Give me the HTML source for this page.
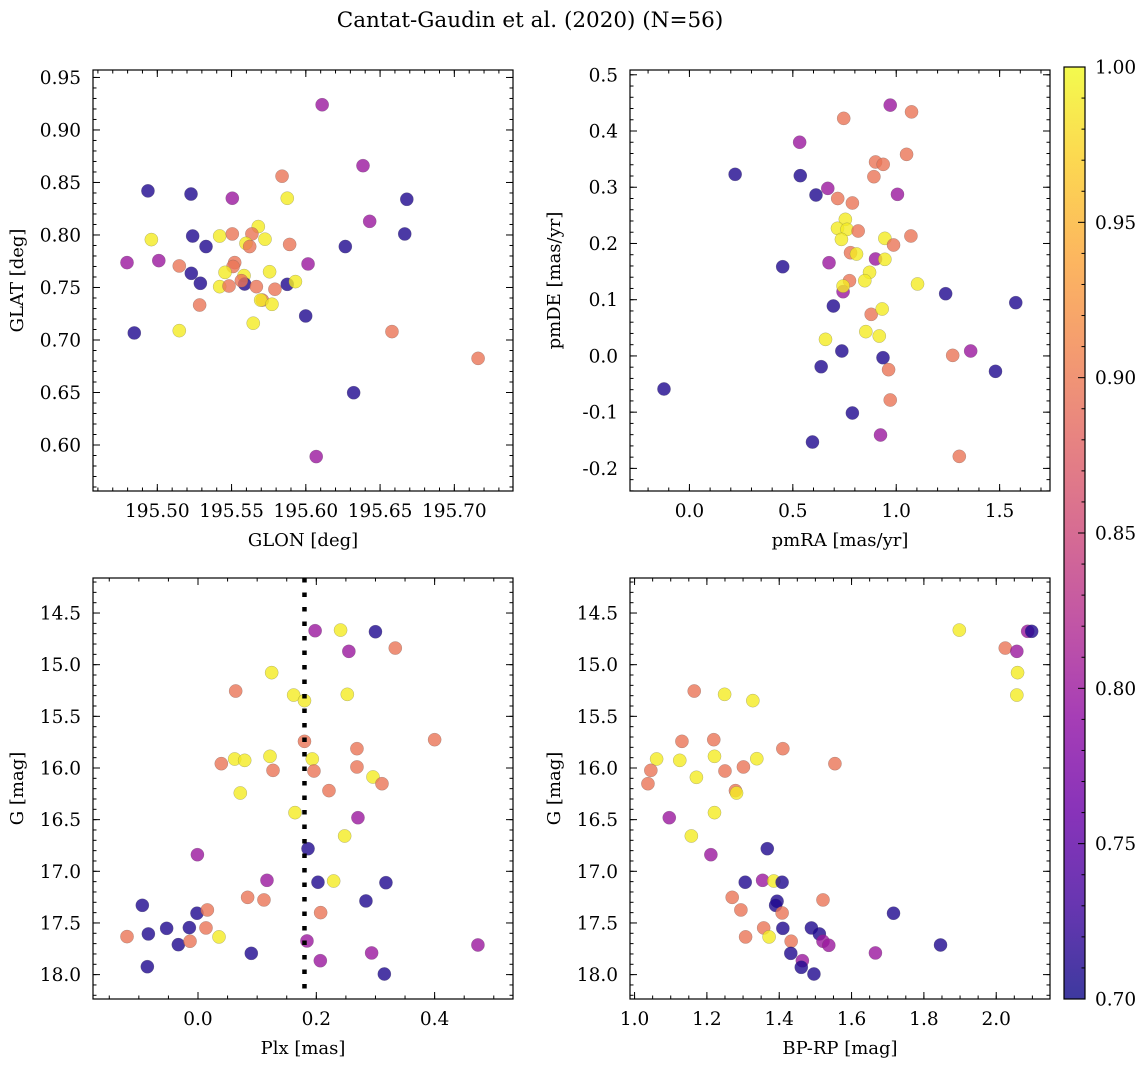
<!DOCTYPE html>
<html><head><meta charset="utf-8"><style>
html,body{margin:0;padding:0;background:#fff;}
svg{display:block;font-family:"DejaVu Serif","Liberation Serif",serif;}
</style></head><body>
<svg id="fig" width="1148" height="1067" viewBox="0 0 1148 1067" xmlns="http://www.w3.org/2000/svg">
<defs>
<linearGradient id="plasmaGrad" x1="0" y1="1" x2="0" y2="0">
<stop offset="0" stop-color="#0d0887"/><stop offset="0.1" stop-color="#41049d"/><stop offset="0.2" stop-color="#6a00a8"/><stop offset="0.3" stop-color="#8f0da4"/><stop offset="0.4" stop-color="#b12a90"/><stop offset="0.5" stop-color="#cc4778"/><stop offset="0.6" stop-color="#e16462"/><stop offset="0.7" stop-color="#f2844b"/><stop offset="0.8" stop-color="#fca636"/><stop offset="0.9" stop-color="#fcce25"/><stop offset="1" stop-color="#f0f921"/>
</linearGradient>
</defs>
<text x="530" y="27" font-size="21.5" text-anchor="middle">Cantat-Gaudin et al. (2020) (N=56)</text>
</svg>
<script>
// membership-probability classes
const B=0.71, P=0.80, S=0.895, Y=0.99;
// Panel 1: GLON / GLAT
const glon=[195.611,195.6385,195.584,195.4937,195.5227,195.5505,195.5875,195.668,195.643,195.568,195.6666,195.496,195.5238,195.542,195.5505,195.5637,195.5725,195.5597,195.5622,195.5328,195.5891,195.6266,195.4796,195.501,195.5148,195.5521,195.551,195.6015,195.5229,195.5456,195.5756,195.5584,195.529,195.5588,195.5566,195.542,195.5483,195.5667,195.5792,195.5875,195.593,195.5285,195.5707,195.5696,195.5772,195.5646,195.5999,195.4845,195.5148,195.658,195.716,195.6322,195.607];
const glat=[0.924,0.866,0.856,0.842,0.839,0.835,0.835,0.834,0.813,0.808,0.801,0.7956,0.799,0.799,0.801,0.801,0.796,0.792,0.789,0.789,0.791,0.789,0.7737,0.7756,0.7705,0.7737,0.770,0.7724,0.7635,0.7644,0.765,0.7613,0.754,0.7533,0.7565,0.7508,0.7514,0.7508,0.7483,0.753,0.7556,0.7333,0.738,0.738,0.734,0.716,0.7229,0.7067,0.7089,0.708,0.6825,0.6498,0.589];
const prob1=[P,P,S,B,B,P,Y,B,P,Y,B,Y,B,Y,S,S,Y,Y,S,B,S,B,P,P,S,S,S,P,B,Y,Y,Y,B,B,S,Y,S,S,S,B,Y,S,S,Y,Y,Y,B,B,Y,S,S,B,P];
// Panel 2: pmRA / pmDE
const pmra=[0.971,1.074,0.746,0.533,0.221,0.536,1.050,0.900,0.937,0.892,0.669,0.612,1.006,0.717,0.788,0.754,0.716,0.762,0.816,0.735,0.945,0.987,1.071,0.779,0.808,0.675,0.900,0.945,0.451,0.871,0.848,0.774,0.743,0.743,1.103,1.239,1.578,0.696,0.879,0.932,0.853,0.918,0.658,0.737,0.936,1.273,1.36,0.637,0.963,1.480,-0.123,0.971,0.788,0.924,0.595,1.305];
const pmde=[0.446,0.434,0.4225,0.380,0.323,0.3206,0.3585,0.3449,0.3407,0.3188,0.298,0.2862,0.2874,0.280,0.272,0.2429,0.227,0.2251,0.2222,0.2073,0.2091,0.1973,0.2133,0.1836,0.1813,0.1658,0.1724,0.1718,0.1587,0.1487,0.1338,0.1338,0.1143,0.1243,0.128,0.1107,0.0947,0.0888,0.074,0.0835,0.0432,0.0354,0.0295,0.0088,-0.0031,0.001,0.0088,-0.0191,-0.0244,-0.0274,-0.0588,-0.0784,-0.1015,-0.1406,-0.1531,-0.1786];
const prob2=[P,S,S,P,B,B,S,S,S,S,P,B,P,S,S,Y,Y,Y,S,Y,Y,S,S,S,Y,P,P,Y,B,Y,Y,S,P,Y,Y,B,B,B,S,Y,Y,Y,Y,B,B,S,P,B,S,B,B,S,B,P,B,S];
// Panel 3: Plx / G
const plx=[0.198,0.241,0.300,0.255,0.3335,0.1245,0.0637,0.1617,0.180,0.2524,0.180,0.40,0.2687,0.0394,0.062,0.0789,0.1217,0.1268,0.1932,0.196,0.2687,0.2958,0.311,0.2214,0.0715,0.164,0.2704,0.2479,0.186,-0.001,0.1166,0.2028,0.2293,0.3177,0.0839,0.1115,0.2839,-0.0941,-0.0017,0.0158,0.2073,-0.053,-0.0146,0.0135,-0.0839,-0.12,0.0355,-0.0332,-0.0135,0.1842,0.4732,0.0901,0.2935,0.2068,-0.0856,0.315];
const gmag3=[14.671,14.665,14.681,14.871,14.839,15.077,15.255,15.294,15.348,15.287,15.742,15.726,15.813,15.958,15.913,15.926,15.887,16.023,15.913,16.029,15.99,16.087,16.152,16.219,16.242,16.432,16.481,16.658,16.781,16.839,17.087,17.106,17.094,17.11,17.252,17.277,17.287,17.329,17.406,17.374,17.4,17.552,17.545,17.548,17.606,17.632,17.635,17.71,17.677,17.674,17.713,17.794,17.79,17.865,17.923,17.994];
const prob3=[P,Y,B,P,S,Y,S,Y,Y,Y,S,S,S,S,Y,Y,Y,S,Y,S,S,Y,S,S,Y,Y,P,Y,B,P,P,B,Y,B,S,S,B,B,B,S,S,B,B,S,B,S,Y,B,S,P,P,B,P,P,B,B];
const plxCut=[0.18];
// Panel 4: BP-RP / G
const bprp=[1.898,2.087,2.098,2.025,2.057,2.059,2.057,1.165,1.249,1.327,1.131,1.219,1.41,1.061,1.125,1.221,1.338,1.045,1.25,1.301,1.554,1.037,1.171,1.279,1.282,1.221,1.096,1.157,1.211,1.367,1.306,1.354,1.385,1.408,1.27,1.294,1.521,1.394,1.39,1.408,1.716,1.41,1.357,1.307,1.372,1.489,1.511,1.433,1.521,1.537,1.846,1.666,1.432,1.464,1.461,1.496];
const gmag4=[14.665,14.677,14.677,14.839,14.871,15.077,15.294,15.255,15.287,15.348,15.742,15.726,15.813,15.913,15.926,15.887,15.91,16.023,16.029,15.99,15.958,16.152,16.09,16.219,16.242,16.432,16.481,16.658,16.839,16.781,17.106,17.087,17.094,17.106,17.252,17.374,17.277,17.29,17.329,17.403,17.406,17.552,17.548,17.635,17.635,17.548,17.606,17.677,17.677,17.716,17.713,17.79,17.794,17.865,17.929,17.994];
const prob4=[Y,P,B,S,P,Y,Y,S,Y,Y,S,S,S,Y,Y,Y,Y,S,S,S,S,S,Y,S,Y,Y,P,Y,P,B,B,P,Y,B,S,S,S,B,B,S,B,B,S,S,Y,B,B,S,P,P,B,P,B,P,B,B];
// tick labels
const ticks1x=["195.50","195.55","195.60","195.65","195.70"];
const ticks1y=["0.60","0.65","0.70","0.75","0.80","0.85","0.90","0.95"];
const ticks2x=["0.0","0.5","1.0","1.5"];
const ticks2y=["-0.2","-0.1","0.0","0.1","0.2","0.3","0.4","0.5"];
const ticks3x=["0.0","0.2","0.4"];
const ticksG=["14.5","15.0","15.5","16.0","16.5","17.0","17.5","18.0"];
const ticks4x=["1.0","1.2","1.4","1.6","1.8","2.0"];
const ticksCb=["0.70","0.75","0.80","0.85","0.90","0.95","1.00"];

const NS="http://www.w3.org/2000/svg";
const svg=document.getElementById('fig');
const FS=18.5, LFS=18;
function mk(tag,attrs,parent){const e=document.createElementNS(NS,tag);for(const k in attrs)e.setAttribute(k,attrs[k]);(parent||svg).appendChild(e);return e;}
const stops=[[0,13,8,135],[0.1,65,4,157],[0.2,106,0,168],[0.3,143,13,164],[0.4,177,42,144],[0.5,204,71,120],[0.6,225,100,98],[0.7,242,132,75],[0.8,252,166,54],[0.9,252,206,37],[1,240,249,33]];
function plasma(v){let t=Math.max(0,Math.min(1,(v-0.7)/0.3));for(let i=1;i<stops.length;i++){if(t<=stops[i][0]){const a=stops[i-1],b=stops[i],f=(t-a[0])/(b[0]-a[0]);return `rgb(${Math.round(a[1]+f*(b[1]-a[1]))},${Math.round(a[2]+f*(b[2]-a[2]))},${Math.round(a[3]+f*(b[3]-a[3]))})`;}}return 'rgb(240,249,33)';}
function lin(d0,d1,r0,r1){return v=>r0+(v-d0)*(r1-r0)/(d1-d0);}

function panel(name,box,xl,yl,xMaj,xMin,yMaj,yMin,xT,yT,xlabel,ylabel,xs,ys,cs){
  const [L,T,R,Bt]=box;
  const sx=lin(xl[0],xl[1],L,R), sy=lin(yl[0],yl[1],Bt,T);
  const g=mk('g',{});
  
  
  const pts=mk('g',{},g);
  
  
  for(let i=0;i<xs.length;i++){
    const c=mk('circle',{cx:sx(xs[i]),cy:sy(ys[i]),r:6.6,fill:plasma(cs[i]),'fill-opacity':0.8,stroke:'#555','stroke-width':0.35,'stroke-opacity':0.6},pts);
    
    
  }
  const fr=mk('rect',{x:L,y:T,width:R-L,height:Bt-T,fill:'none',stroke:'#000','stroke-width':1.2},g);
  
  
  const eps=1e-9;
  function ticksX(step,len){const s=Math.ceil(xl[0]/step-eps);for(let k=s;k*step<=xl[1]+eps;k++){const x=sx(k*step);mk('line',{x1:x,x2:x,y1:Bt,y2:Bt-len,stroke:'#000','stroke-width':1},g);mk('line',{x1:x,x2:x,y1:T,y2:T+len,stroke:'#000','stroke-width':1},g);}}
  function ticksY(step,len){const lo=Math.min(yl[0],yl[1]),hi=Math.max(yl[0],yl[1]);const s=Math.ceil(lo/step-eps);for(let k=s;k*step<=hi+eps;k++){const y=sy(k*step);mk('line',{x1:L,x2:L+len,y1:y,y2:y,stroke:'#000','stroke-width':1},g);mk('line',{x1:R,x2:R-len,y1:y,y2:y,stroke:'#000','stroke-width':1},g);}}
  ticksX(xMin,3.5);ticksX(xMaj,7);ticksY(yMin,3.5);ticksY(yMaj,7);
  xT.forEach(s=>{const t=mk('text',{x:sx(parseFloat(s)),y:Bt+26,'font-size':FS,'text-anchor':'middle'},g);t.textContent=s;});
  yT.forEach(s=>{const t=mk('text',{x:L-12,y:sy(parseFloat(s))+6.5,'font-size':FS,'text-anchor':'end'},g);t.textContent=s;});
  const xt=mk('text',{x:(L+R)/2,y:Bt+55,'font-size':LFS,'text-anchor':'middle'},g);xt.textContent=xlabel;
  
  
  const yx=L-70, yy=(T+Bt)/2;
  const yt=mk('text',{x:yx,y:yy,'font-size':LFS,'text-anchor':'middle',transform:`rotate(-90 ${yx} ${yy})`},g);yt.textContent=ylabel;
  
  
  return {sx,sy,g};
}

panel('glon-glat-panel',[93,70,513,491],[195.4567,195.7395],[0.5562,0.9571],0.05,0.01,0.05,0.01,ticks1x,ticks1y,'GLON [deg]','GLAT [deg]',glon,glat,prob1);
panel('proper-motion-panel',[630,70,1050,491],[-0.2874,1.7436],[-0.2402,0.5085],0.5,0.1,0.1,0.02,ticks2x,ticks2y,'pmRA [mas/yr]','pmDE [mas/yr]',pmra,pmde,prob2);
const p3=panel('parallax-panel',[93,578,513,999],[-0.1775,0.5325],[18.236,14.161],0.2,0.05,0.5,0.1,ticks3x,ticksG,'Plx [mas]','G [mag]',plx,gmag3,prob3);
panel('cmd-panel',[630,578,1050,999],[0.9874,2.1487],[18.236,14.161],0.2,0.05,0.5,0.1,ticks4x,ticksG,'BP-RP [mag]','G [mag]',bprp,gmag4,prob4);
plxCut.forEach(v=>{
  const ln=mk('line',{x1:p3.sx(v),x2:p3.sx(v),y1:578,y2:999,stroke:'#000','stroke-width':4.5,'stroke-dasharray':'4.5 10'});
  
  
});

// colorbar
const cb=mk('g',{});


const cT=67,cB=999,cL=1064,cR=1085;
const cy=lin(0.70,1.00,cB,cT);
const bar=mk('rect',{x:cL,y:cT,width:cR-cL,height:cB-cT,fill:'url(#plasmaGrad)','fill-opacity':0.8},cb);


mk('rect',{x:cL,y:cT,width:cR-cL,height:cB-cT,fill:'none',stroke:'#000','stroke-width':1.2},cb);
for(let k=70;k<=100;k++){const y=cy(k/100);const len=(k%5===0)?7:3.5;mk('line',{x1:cR,x2:cR-len,y1:y,y2:y,stroke:'#000','stroke-width':1},cb);}
ticksCb.forEach(s=>{const t=mk('text',{x:cR+10,y:cy(parseFloat(s))+6.5,'font-size':FS},cb);t.textContent=s;});
</script>
</body></html>
